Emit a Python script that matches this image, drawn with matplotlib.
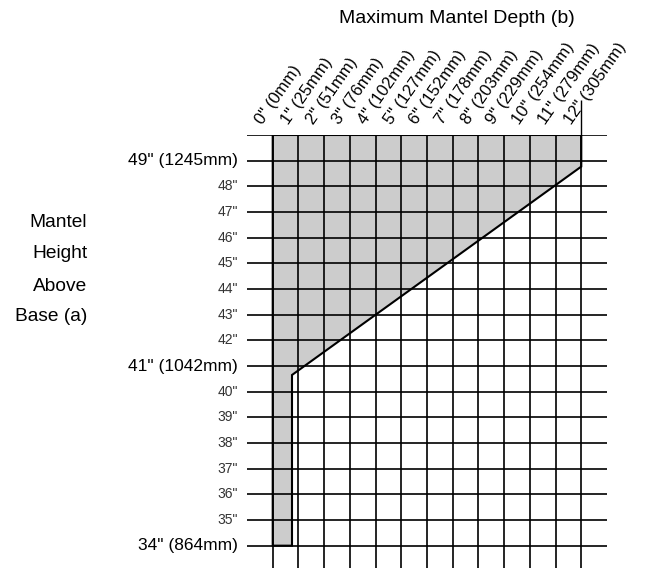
import matplotlib
matplotlib.use("Agg")
import matplotlib.pyplot as plt
from matplotlib.patches import Polygon

plt.rcParams['font.family'] = ['Liberation Sans', 'DejaVu Sans']

# ---- data ----
depth_in = [0, 1, 2, 3, 4, 5, 6, 7, 8, 9, 10, 11, 12]
depth_mm = [0, 25, 51, 76, 102, 127, 152, 178, 203, 229, 254, 279, 305]
height_in = [34, 35, 36, 37, 38, 39, 40, 41, 42, 43, 44, 45, 46, 47, 48, 49]
height_mm = {34: 864, 41: 1042, 49: 1245}
grid_top = 50
# shaded allowable region (depth, height)
region_depth = [0, 12, 12, 0.75, 0.75, 0]
region_height = [50, 50, 48.77, 40.65, 34, 34]

title = "Maximum Mantel Depth (b)"
ylabel_lines = ["Mantel", "Height", "Above", "Base (a)"]

W, H = 647, 569
fig = plt.figure(figsize=(W / 100, H / 100), dpi=100)
ax = fig.add_axes([247 / W, (H - 568) / H, 360 / W, 433 / H])
ax.set_xlim(-1, 13)
ax.set_ylim(33.13, 50)
ax.axis('off')

# shaded region
pts = list(zip(region_depth, region_height))
ax.add_patch(Polygon(pts, closed=True, facecolor='#cccccc', edgecolor='none', zorder=1))

# grid lines
hys = height_in + [grid_top]
ax.hlines(hys, -1, 13, colors='black', linewidth=1.2, zorder=2)
ax.vlines(depth_in, 33.13, grid_top, colors='black', linewidth=1.2, zorder=2)
# leader line at 12"
ax.vlines([depth_in[-1]], grid_top, 51.37, colors='black', linewidth=1.0, zorder=2, clip_on=False)

# region outline
ax.add_patch(Polygon(pts, closed=True, facecolor='none', edgecolor='black',
                     linewidth=1.5, zorder=3, joinstyle='miter'))

# y labels
for h in height_in:
    if h in height_mm:
        ax.text(-1.35, h, f'{h}" ({height_mm[h]}mm)', ha='right', va='center',
                fontsize=12.5, color='black', clip_on=False)
    else:
        ax.text(-1.35, h, f'{h}"', ha='right', va='center',
                fontsize=10, color='#333333', clip_on=False)

# x labels (rotated)
for d, mm in zip(depth_in, depth_mm):
    ax.text(d - 0.3, grid_top + 0.3, f'{d}" ({mm}mm)', rotation=55,
            rotation_mode='anchor', ha='left', va='bottom', fontsize=12,
            color='black', clip_on=False)

# title
fig.text(457 / W, 1 - 23.3 / H, title, ha='center', va='baseline', fontsize=14)

# left label
for txt, by in zip(ylabel_lines, [226.7, 258.0, 290.7, 320.7]):
    fig.text(87 / W, 1 - by / H, txt, ha='right', va='baseline', fontsize=13.8)

fig.savefig('out.png', dpi=100)
